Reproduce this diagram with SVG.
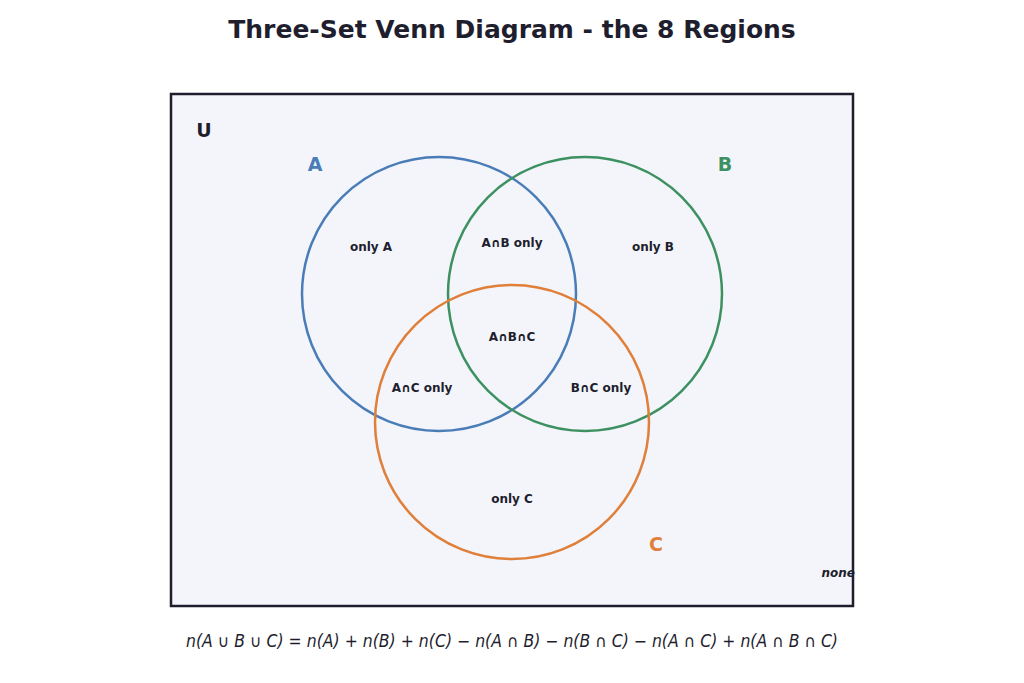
<svg xmlns="http://www.w3.org/2000/svg" width="1024" height="683" viewBox="0 0 1024 683">
<style>
text{font-family:"DejaVu Sans",sans-serif;fill:#1e1e2e}
.lbl{font-size:12px;font-weight:bold;text-anchor:middle}
.set{font-size:19px;font-weight:bold;text-anchor:middle}
circle{fill:none;stroke-width:2.5}
</style>
<rect width="1024" height="683" fill="#fff"/>
<text x="512" y="38" text-anchor="middle" font-size="25" font-weight="bold">Three-Set Venn Diagram - the 8 Regions</text>
<g id="universe"><rect x="171" y="94" width="682" height="512" fill="#f3f5fa"/>
<text x="204" y="137" class="set">U</text></g>
<g id="none"><text x="855" y="577" text-anchor="end" font-size="12" font-weight="bold" font-style="italic">none</text></g>
<rect x="171" y="94" width="682" height="512" fill="none" stroke="#1e1e2e" stroke-width="2.5"/>
<g id="setA"><circle cx="439" cy="294" r="137" stroke="#4a7db8"/><text x="315" y="171" class="set" style="fill:#4a7db8">A</text></g>
<g id="setB"><circle cx="585" cy="294" r="137" stroke="#3d9161"/><text x="725" y="171" class="set" style="fill:#3d9161">B</text></g>
<g id="setC"><circle cx="512" cy="422" r="137" stroke="#e07f3a"/><text x="656" y="551" class="set" style="fill:#e07f3a">C</text></g>
<g id="regions">
<text x="371" y="251" class="lbl">only A</text>
<text x="512" y="247" class="lbl">A∩B only</text>
<text x="653" y="251" class="lbl">only B</text>
<text x="512" y="341" class="lbl">A∩B∩C</text>
<text x="422" y="392" class="lbl">A∩C only</text>
<text x="601" y="392" class="lbl">B∩C only</text>
<text x="512" y="503" class="lbl">only C</text>
</g>
<text x="186" y="647" font-size="17" font-style="italic" textLength="652" lengthAdjust="spacingAndGlyphs">n(A ∪ B ∪ C) = n(A) + n(B) + n(C) − n(A ∩ B) − n(B ∩ C) − n(A ∩ C) + n(A ∩ B ∩ C)</text>
</svg>
